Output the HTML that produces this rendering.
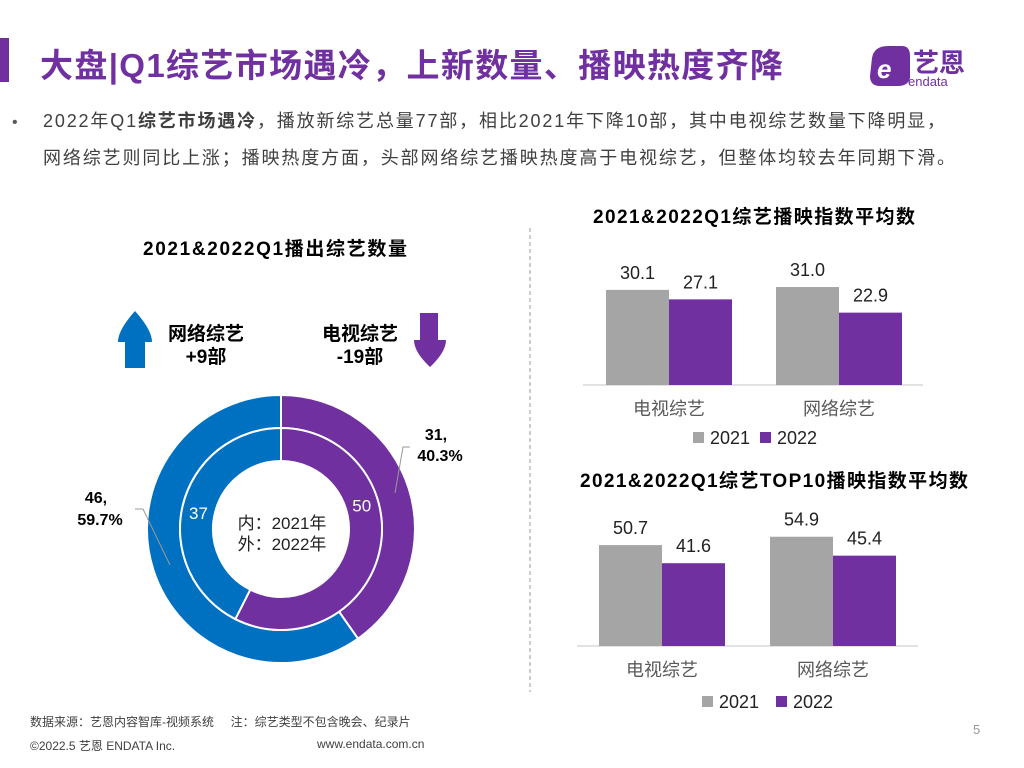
<!DOCTYPE html>
<html><head><meta charset="utf-8">
<style>
body{margin:0;width:1024px;height:768px;background:#fff;overflow:hidden;font-family:"Liberation Sans","Noto Sans CJK SC",sans-serif;}
svg{position:absolute;left:0;top:0}
text{font-family:"Liberation Sans","Noto Sans CJK SC",sans-serif}
</style></head><body>
<svg id="s" width="1024" height="768">
<rect x="0" y="38" width="9" height="44" fill="#7030a0"/>
<text x="40" y="77" font-size="33" font-weight="bold" fill="#7030a0" textLength="743">大盘|Q1综艺市场遇冷，上新数量、播映热度齐降</text>
<g>
<path d="M872 58 Q874 46 888 46 L902 46 Q910 46 910 56 L910 78 Q908 86 898 86 L880 86 Q870 86 870 76 Z" fill="#7030a0"/>
<text x="877" y="78" font-size="26" font-weight="bold" fill="#fff" font-style="italic">e</text>
<text x="913" y="72" font-size="26" font-weight="bold" fill="#7030a0">艺恩</text>
<text x="908" y="86" font-size="13" fill="#7030a0">endata</text>
</g>
<text x="12" y="127" font-size="16" fill="#595959">•</text>
<text x="43" y="127" font-size="18" fill="#404040" textLength="902">2022年Q1<tspan font-weight="bold">综艺市场遇冷</tspan>，播放新综艺总量77部，相比2021年下降10部，其中电视综艺数量下降明显，</text>
<text x="43" y="164" font-size="18" fill="#404040" textLength="912">网络综艺则同比上涨；播映热度方面，头部网络综艺播映热度高于电视综艺，但整体均较去年同期下滑。</text>
<line x1="530" y1="228" x2="530" y2="692" stroke="#999" stroke-dasharray="4,3"/>
<text x="275" y="255" font-size="19" font-weight="bold" text-anchor="middle" textLength="264" fill="#000">2021&amp;2022Q1播出综艺数量</text>
<path d="M125 368 L125 342 L118 342 Q118 330 135 311 Q152 330 152 342 L145 342 L145 368 Z" fill="#0070c0"/>
<text x="206" y="340" font-size="19" font-weight="bold" text-anchor="middle">网络综艺</text>
<text x="206" y="363" font-size="19" font-weight="bold" text-anchor="middle">+9部</text>
<text x="360" y="340" font-size="19" font-weight="bold" text-anchor="middle">电视综艺</text>
<text x="360" y="363" font-size="19" font-weight="bold" text-anchor="middle">-19部</text>
<path d="M420 313 L438 313 L438 340 L446 340 Q446 352 430 367 Q414 352 414 340 L420 340 Z" fill="#7030a0"/>
<g id="donut"></g>
<text x="282" y="529" font-size="17" text-anchor="middle" fill="#222">内：2021年</text>
<text x="282" y="550" font-size="17" text-anchor="middle" fill="#222">外：2022年</text>
<text x="436" y="440" font-size="16" font-weight="bold" text-anchor="middle">31,</text>
<text x="440" y="461" font-size="16" font-weight="bold" text-anchor="middle">40.3%</text>
<polyline points="395,493 403,447 410,447" fill="none" stroke="#999"/>
<text x="96" y="503" font-size="16" font-weight="bold" text-anchor="middle">46,</text>
<text x="100" y="525" font-size="16" font-weight="bold" text-anchor="middle">59.7%</text>
<polyline points="135,509 143,509 170,565" fill="none" stroke="#999"/>
<g id="bars"></g>
</svg>
<script>
const donutCats=["电视综艺","网络综艺"];
const inner2021=[50,37];
const outer2022=[31,46];
const barCats=["电视综艺","网络综艺"];
const avg2021=[30.1,31.0];
const avg2022=[27.1,22.9];
const top2021=[50.7,54.9];
const top2022=[41.6,45.4];
const NS="http://www.w3.org/2000/svg";
function mk(t,a,p){const e=document.createElementNS(NS,t);for(const k in a)e.setAttribute(k,a[k]);p.appendChild(e);return e;}
const cx=281,cy=529,cols=["#7030a0","#0070c0"];
function ring(vals,r0,r1,g,nm,showLabels){
 const tot=vals.reduce((a,b)=>a+b,0);let a=0;
 vals.forEach((v,i)=>{const a0=a,a1=a+v/tot*2*Math.PI;a=a1;
  const P=(r,t)=>[cx+r*Math.sin(t),cy-r*Math.cos(t)];
  const lg=(a1-a0)>Math.PI?1:0;
  const [x0,y0]=P(r1,a0),[x1,y1]=P(r1,a1),[x2,y2]=P(r0,a1),[x3,y3]=P(r0,a0);
  const p=mk('path',{d:`M${x0} ${y0}A${r1} ${r1} 0 ${lg} 1 ${x1} ${y1}L${x2} ${y2}A${r0} ${r0} 0 ${lg} 0 ${x3} ${y3}Z`,fill:cols[i],stroke:'#fff','stroke-width':2},g);
  
  
  if(showLabels){const m=a0+1.29;const [lx,ly]=P(84,m);
   const t=mk('text',{x:lx,y:ly+6,'font-size':17,fill:'#fff','text-anchor':'middle'},g);t.textContent=v;
   
   }
 });
}
const dg=document.getElementById('donut');
ring(outer2022,101,134,dg,'outer-ring',false);
ring(inner2021,68,101,dg,'inner-ring',true);
const bg=document.getElementById('bars');
function barChart(o){
 const t=mk('text',{x:o.tx,y:o.ty,'font-size':19,'font-weight':'bold','text-anchor':'middle',textLength:o.tl},bg);t.textContent=o.title;
 
 const ax=mk('line',{x1:o.ax0,x2:o.ax1,y1:o.base,y2:o.base,stroke:'#d9d9d9','stroke-width':1.5},bg);
 
 const y=v=>o.base-v*o.k;
 barCats.forEach((c,i)=>{
  [o.s1,o.s2].forEach((s,j)=>{const x=o.gx[i]+j*o.w;
   const r=mk('rect',{x:x,y:y(s[i]),width:o.w,height:o.base-y(s[i]),fill:j?'#7030a0':'#a5a5a5'},bg);
   
   
   const tl=mk('text',{x:x+o.w/2,y:y(s[i])-11,'font-size':18,'text-anchor':'middle',fill:'#222'},bg);tl.textContent=s[i].toFixed(1);
   
   });
  const cl=mk('text',{x:o.gx[i]+o.w,y:o.base+30,'font-size':18,'text-anchor':'middle',fill:'#595959'},bg);cl.textContent=c;
  
 });
 [["2021","#a5a5a5"],["2022","#7030a0"]].forEach((l,j)=>{const lx=o.lx+j*o.ld;
  const r=mk('rect',{x:lx,y:o.ly-12,width:11,height:11,fill:l[1]},bg);
  
  const tt=mk('text',{x:lx+17,y:o.ly,'font-size':18,fill:'#222'},bg);tt.textContent=l[0];
  });
}
barChart({nm:'avg-chart',title:'2021&2022Q1综艺播映指数平均数',tx:754,ty:223,tl:322,ax0:583,ax1:923,base:385,k:3.16,gx:[606,776],w:63,s1:avg2021,s2:avg2022,lx:693,ld:67,ly:444});
barChart({nm:'top10-chart',title:'2021&2022Q1综艺TOP10播映指数平均数',tx:774,ty:487,tl:388,ax0:577,ax1:918,base:646,k:1.99,gx:[599,770],w:63,s1:top2021,s2:top2022,lx:702,ld:74,ly:708});
</script>
<div style="position:absolute;left:30px;top:713px;font-size:12px;color:#404040">数据来源：艺恩内容智库-视频系统&nbsp;&nbsp;&nbsp;&nbsp;&nbsp;注：综艺类型不包含晚会、纪录片</div>
<div style="position:absolute;left:30px;top:737px;font-size:12px;color:#404040">©2022.5 艺恩 ENDATA Inc.</div>
<div style="position:absolute;left:317px;top:737px;font-size:12px;color:#404040">www.endata.com.cn</div>
<div style="position:absolute;left:973px;top:722px;font-size:13px;color:#999">5</div>
</body></html>
